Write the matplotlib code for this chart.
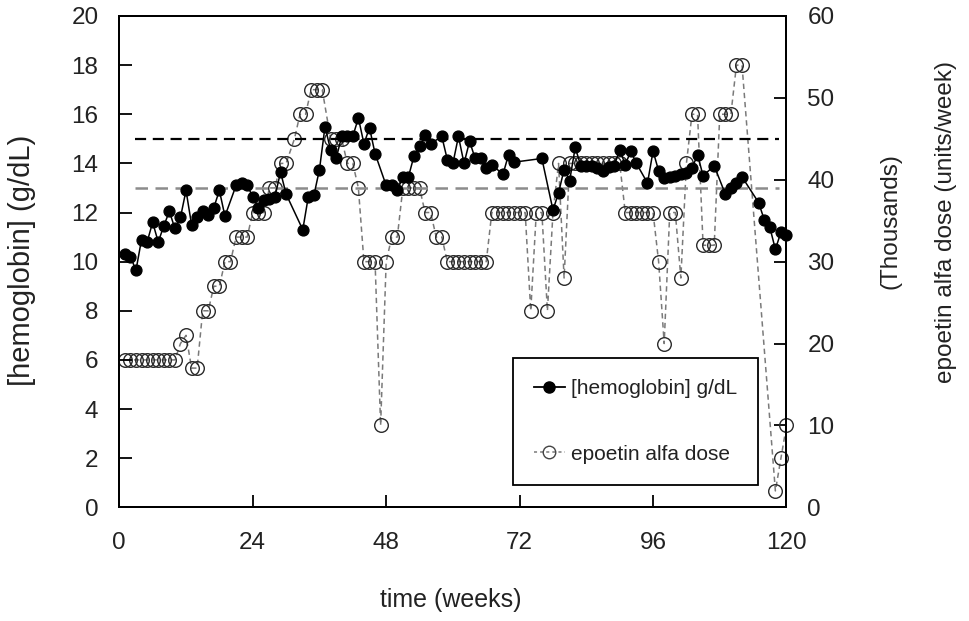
import matplotlib
matplotlib.use('Agg')
import matplotlib.pyplot as plt
from matplotlib.lines import Line2D

plt.rcParams['font.family'] = ['Liberation Sans', 'DejaVu Sans']

# ---------------- data ----------------
hb_weeks = [1, 2, 3, 4, 5, 6, 7, 8, 9, 10, 11, 12, 13, 14, 15, 16, 17, 18, 19,
            21, 22, 23, 24, 25, 26, 27, 28, 29, 30, 33, 34, 35, 36, 37, 38, 39,
            40, 41, 42, 43, 44, 45, 46, 48, 49, 50, 51, 52, 53, 54, 55, 56, 58,
            59, 60, 61, 62, 63, 64, 65, 66, 67, 69, 70, 71, 76, 78, 79, 80, 81,
            82, 83, 84, 85, 86, 87, 88, 89, 90, 91, 92, 93, 95, 96, 97, 98, 99,
            100, 101, 102, 103, 104, 105, 107, 109, 110, 111, 112, 115, 116, 117,
            118, 119, 120]
hb = [10.3, 10.2, 9.65, 10.9, 10.8, 11.6, 10.8, 11.45, 12.05, 11.35, 11.8, 12.9,
      11.5, 11.8, 12.05, 11.9, 12.2, 12.9, 11.85,
      13.1, 13.2, 13.1, 12.65, 12.2, 12.5, 12.55, 12.65, 13.65, 12.75, 11.3, 12.65,
      12.7, 13.75, 15.5, 14.55, 14.2,
      15.1, 15.1, 15.1, 15.85, 14.8, 15.45, 14.4, 13.1, 13.1, 12.9, 13.45, 13.45,
      14.3, 14.7, 15.15, 14.8, 15.1,
      14.15, 14.0, 15.1, 14.0, 14.9, 14.2, 14.2, 13.8, 13.95, 13.55, 14.35, 14.05,
      14.2, 12.1, 12.8, 13.75, 13.3,
      14.65, 13.9, 13.9, 13.9, 13.8, 13.7, 13.85, 13.9, 14.55, 13.95, 14.5, 14.0,
      13.2, 14.5, 13.7, 13.4, 13.45,
      13.5, 13.55, 13.6, 13.8, 14.35, 13.5, 13.9, 12.75, 13.0, 13.2, 13.45, 12.4,
      11.7, 11.4,
      10.5, 11.2, 11.1]

dose_weeks = [1, 2, 3, 4, 5, 6, 7, 8, 9, 10, 11, 12, 13, 14, 15, 16, 17, 18, 19,
              20, 21, 22, 23, 24, 25, 26, 27, 28, 29, 30, 31.5, 32.5, 33.5, 34.5,
              35.5, 36.5, 38, 39, 40, 41, 42, 43, 44, 45, 46, 47, 48, 49, 50, 51,
              52, 53, 54, 55, 56, 57, 58, 59, 60, 61, 62, 63, 64, 65, 66, 67, 68,
              69, 70, 71, 72, 73, 74, 75, 76, 77, 78, 79, 80, 81, 82, 83, 84, 85,
              86, 87, 88, 89, 90, 91, 92, 93, 94, 95, 96, 97, 98, 99, 100, 101,
              102, 103, 104, 105, 106, 107, 108, 109, 110, 111, 112, 118, 119, 120]
dose_k = [18, 18, 18, 18, 18, 18, 18, 18, 18, 18, 20, 21, 17, 17, 24, 24, 27, 27, 30,
          30, 33, 33, 33, 36, 36, 36, 39, 39, 42, 42, 45, 48, 48, 51,
          51, 51, 45, 45, 45, 42, 42, 39, 30, 30, 30, 10, 30, 33, 33, 39,
          39, 39, 39, 36, 36, 33, 33, 30, 30, 30, 30, 30, 30, 30, 30, 36, 36,
          36, 36, 36, 36, 36, 24, 36, 36, 24, 36, 42, 28, 42, 42, 42, 42, 42,
          42, 42, 42, 42, 42, 36, 36, 36, 36, 36, 36, 30, 20, 36, 36, 28,
          42, 48, 48, 32, 32, 32, 48, 48, 48, 54, 54, 2, 6, 10]

target_upper = 15
target_lower = 13
target_start, target_end = 2.8, 118.6

x_ticks = [0, 24, 48, 72, 96, 120]
y_ticks = [0, 2, 4, 6, 8, 10, 12, 14, 16, 18, 20]
y2_ticks = [0, 10, 20, 30, 40, 50, 60]

labels = ['[hemoglobin] g/dL', 'epoetin alfa dose']

# ---------------- figure ----------------
W, H = 970, 621
fig = plt.figure(figsize=(W / 100, H / 100), dpi=100)
ax = fig.add_axes([119.3 / W, 1 - 507.3 / H, (786.5 - 119.3) / W, (507.3 - 16) / H])
ax2 = ax.twinx()
ax.set_zorder(ax2.get_zorder() + 1)
ax.patch.set_visible(False)

ax2.plot(dose_weeks, dose_k, linestyle=(0, (3.5, 2.5)), color='#7a7a7a', lw=1.1,
         marker='o', ms=9.8, mfc='none', mec='#2a2a2a', mew=1.0, clip_on=False)
ax.hlines([target_upper], target_start, target_end, colors='black',
          linestyles=(0, (5, 3)), lw=1.6)
ax.hlines([target_lower], target_start, target_end, colors='#8c8c8c',
          linestyles=(0, (5, 3)), lw=1.8)
ax.plot(hb_weeks, hb, '-', color='black', lw=1.1, marker='o', ms=7.8,
        mfc='black', mec='black', clip_on=False)

ax.set_xlim(0, 120)
ax.set_ylim(0, 20)
ax2.set_ylim(0, 60)
ax.set_xticks(x_ticks)
ax.set_yticks(y_ticks)
ax2.set_yticks(y2_ticks)

for a in (ax, ax2):
    for s in a.spines.values():
        s.set_linewidth(1.4)
ax.tick_params(axis='y', direction='in', length=9, width=1.3, labelsize=17.5,
               pad=15, right=False, labelcolor='#222222')
ax.tick_params(axis='x', direction='in', length=9, width=1.3, labelsize=17.5,
               pad=18, top=False, labelcolor='#222222')
ax2.tick_params(axis='y', direction='in', length=9, width=1.3, labelsize=17.5,
                pad=15, labelcolor='#222222')

h1 = Line2D([], [], color='black', lw=1.3, marker='o', ms=8, mfc='black', mec='black')
h2 = Line2D([], [], color='#7a7a7a', lw=1.1, linestyle=(0, (2, 2)), marker='o', ms=9,
            mfc='none', mec='#444444')
leg = ax.legend([h1, h2], labels, loc='upper left',
                bbox_to_anchor=(513 / W, 1 - 358 / H), bbox_transform=fig.transFigure,
                borderaxespad=0, prop={'family': 'Liberation Sans', 'size': 15},
                frameon=True, fancybox=False, edgecolor='black', framealpha=1,
                borderpad=1.0, labelspacing=2.25, handlelength=1.5, handletextpad=0.3)
leg.get_frame().set_linewidth(1.3)
for t in leg.get_texts():
    t.set_color('#222222')

fig.text(451 / W, 1 - 600 / H, 'time (weeks)', ha='center', va='center',
         family='Liberation Sans', size=18, color='#222222')
fig.text(22 / W, 1 - 260 / H, '[hemoglobin] (g/dL)', rotation=90, ha='center',
         va='center', family='Liberation Sans', size=21, color='#222222')
fig.text(891 / W, 1 - 221 / H, '(Thousands)', rotation=90, ha='center',
         va='center', family='Liberation Sans', size=17.5, color='#222222')
fig.text(946 / W, 1 - 222 / H, 'epoetin alfa dose (units/week)', rotation=90,
         ha='center', va='center', family='Liberation Sans', size=17.5, color='#222222')

fig.savefig('out.png', dpi=100)
